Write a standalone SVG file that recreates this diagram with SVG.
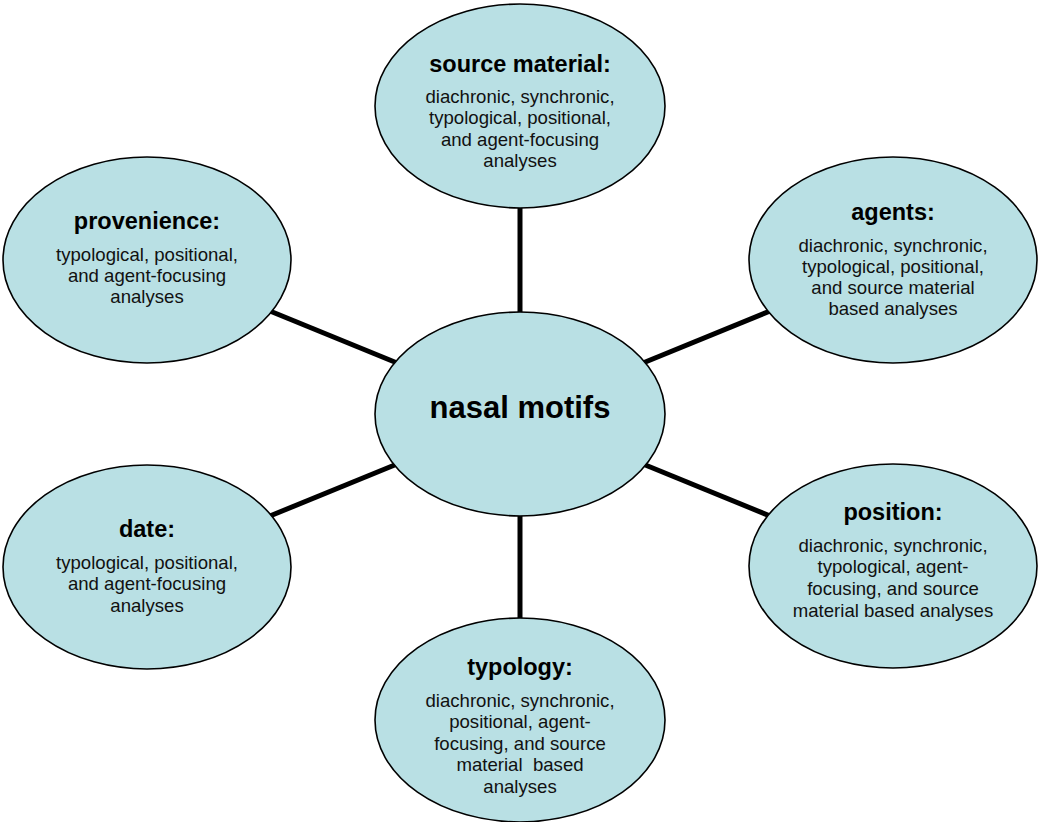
<svg xmlns="http://www.w3.org/2000/svg" width="1038" height="822" viewBox="0 0 1038 822">
<style>
.node{fill:#b9e0e4;stroke:#000;stroke-width:1.6}
.conn{stroke:#000;stroke-width:5;fill:none}
text{font-family:"Liberation Sans",Arial,sans-serif;text-anchor:middle;fill:#000}
.t{font-weight:bold;font-size:23.5px}
.b{font-size:18.6px;fill:#111}
.c{font-weight:bold;font-size:31px}
</style>
<rect width="1038" height="822" fill="#fff"/>
<g id="connectors">
<line class="conn" x1="520" y1="200" x2="520" y2="320"/>
<line class="conn" x1="520" y1="510" x2="520" y2="625"/>
<line class="conn" x1="265" y1="309" x2="402" y2="365"/>
<line class="conn" x1="775" y1="309" x2="638" y2="365"/>
<line class="conn" x1="265" y1="518" x2="402" y2="462"/>
<line class="conn" x1="775" y1="518" x2="638" y2="462"/>
</g>
<g id="source">
<ellipse class="node" cx="520" cy="106" rx="145" ry="102"/>
<text class="t" x="520" y="72">source material:</text>
<text class="b" x="520" y="103">diachronic, synchronic,</text>
<text class="b" x="520" y="124">typological, positional,</text>
<text class="b" x="520" y="146">and agent-focusing</text>
<text class="b" x="520" y="167">analyses</text>
</g>
<g id="provenience">
<ellipse class="node" cx="147" cy="260" rx="144" ry="103"/>
<text class="t" x="147" y="229">provenience:</text>
<text class="b" x="147" y="261">typological, positional,</text>
<text class="b" x="147" y="282">and agent-focusing</text>
<text class="b" x="147" y="303">analyses</text>
</g>
<g id="agents">
<ellipse class="node" cx="893" cy="260" rx="144" ry="103"/>
<text class="t" x="893" y="220">agents:</text>
<text class="b" x="893" y="252">diachronic, synchronic,</text>
<text class="b" x="893" y="273">typological, positional,</text>
<text class="b" x="893" y="294">and source material</text>
<text class="b" x="893" y="315">based analyses</text>
</g>
<g id="center">
<ellipse class="node" cx="520" cy="414" rx="145" ry="102"/>
<text class="c" x="520" y="418">nasal motifs</text>
</g>
<g id="date">
<ellipse class="node" cx="147" cy="567" rx="144" ry="102"/>
<text class="t" x="147" y="537">date:</text>
<text class="b" x="147" y="569">typological, positional,</text>
<text class="b" x="147" y="590">and agent-focusing</text>
<text class="b" x="147" y="612">analyses</text>
</g>
<g id="position">
<ellipse class="node" cx="893" cy="566" rx="144" ry="102"/>
<text class="t" x="893" y="520">position:</text>
<text class="b" x="893" y="552">diachronic, synchronic,</text>
<text class="b" x="893" y="573">typological, agent-</text>
<text class="b" x="893" y="595">focusing, and source</text>
<text class="b" x="893" y="617">material based analyses</text>
</g>
<g id="typology">
<ellipse class="node" cx="520" cy="720" rx="145" ry="102"/>
<text class="t" x="520" y="675">typology:</text>
<text class="b" x="520" y="707">diachronic, synchronic,</text>
<text class="b" x="520" y="728">positional, agent-</text>
<text class="b" x="520" y="750">focusing, and source</text>
<text class="b" x="520" y="771">material&#160; based</text>
<text class="b" x="520" y="793">analyses</text>
</g>
</svg>
